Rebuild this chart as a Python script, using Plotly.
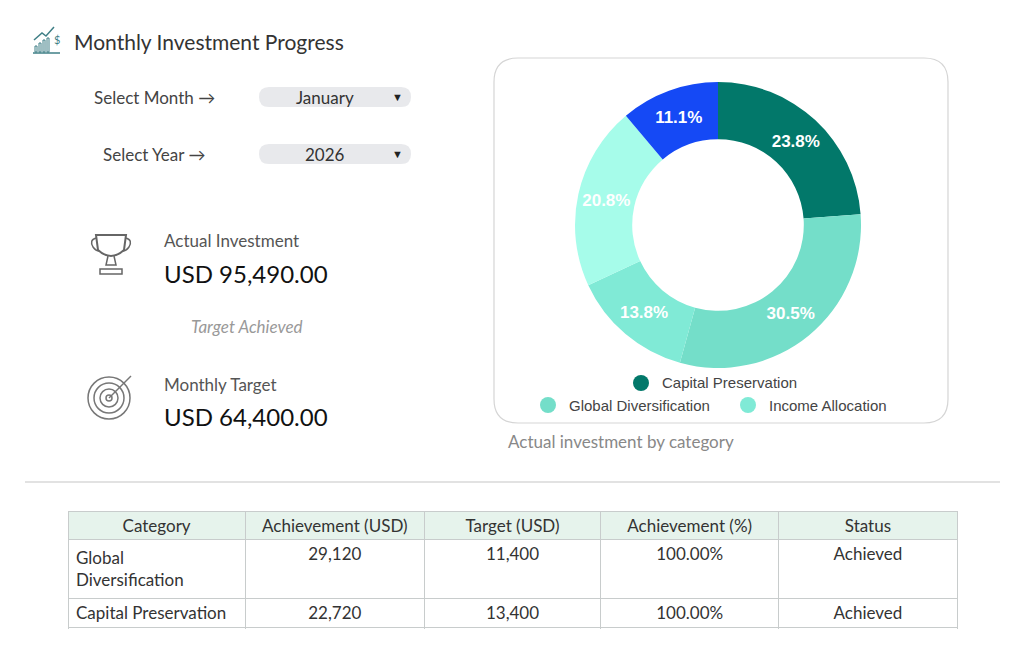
import plotly.graph_objects as go

W, H = 1024, 650
OFF = 8  # page margin the browser adds around the plot

# donut data
slice_labels = ["Capital Preservation", "Global Diversification", "Income Allocation",
                "Alternative Investment", "Liquidity Reserve"]
slice_values = [22720, 29120, 13180, 19830, 10640]
slice_colors = ["#02786A", "#74DEC9", "#80EAD6", "#A6FCEA", "#1549F5"]
legend_items = ["Capital Preservation", "Global Diversification", "Income Allocation"]

# table data (first column is clipped in the source view)
tbl_category = ["Global Diversification", "Capital Preservation", "Alternative Investmen"]
tbl_achieved = ["29,120", "22,720", "19,830"]
tbl_target = ["11,400", "13,400", "8,400"]
tbl_pct = ["100.00%", "100.00%", "100.00%"]
tbl_status = ["Achieved", "Achieved", "Achieved"]
tbl_header = ["Category", "Achievement (USD)", "Target (USD)", "Achievement (%)", "Status"]

actual_total = "USD 95,490.00"
monthly_target = "USD 64,400.00"


def px(x):
    return (x - OFF) / W


def py(y):
    return 1 - (y - OFF) / H


FONT = "Lato"
fig = go.Figure()

fig.add_trace(go.Pie(
    labels=slice_labels, values=slice_values, hole=0.6, sort=False, direction="clockwise",
    rotation=0, marker=dict(colors=slice_colors), textinfo="percent", texttemplate="<b>%{percent:.1%}</b>",
    textfont=dict(family="Liberation Sans", size=17, color="white"), insidetextorientation="horizontal",
    showlegend=False, hoverinfo="label+value+percent",
    domain=dict(x=[px(575), px(861)], y=[py(368), py(82)]),
))

fig.add_trace(go.Table(
    columnwidth=[177, 179, 176, 178, 178],
    header=dict(values=tbl_header, fill_color="#E6F3EC", line_color="#C8CCCC",
                align="center", height=28, font=dict(family=FONT, size=17, color="#333")),
    cells=dict(values=[tbl_category, tbl_achieved, tbl_target, tbl_pct, tbl_status],
               fill_color="white", line_color="#C8CCCC", height=29,
               align=["left", "center", "center", "center", "center"],
               font=dict(family=FONT, size=17, color="#333")),
    domain=dict(x=[px(68), px(957)], y=[py(630), py(511)]),
))

shapes = []
annots = []


def text(x, y, s, size, color="#333", anchor="left", **kw):
    annots.append(dict(x=px(x), y=py(y), xref="paper", yref="paper", text=s, showarrow=False,
                       xanchor=anchor, yanchor="middle",
                       font=dict(family=FONT, size=size, color=color), **kw))


# title + icon
text(72, 41, "Monthly Investment Progress", 21, "#333")
for i, h in enumerate([6, 9, 12, 14]):
    shapes.append(dict(type="rect", xref="paper", yref="paper", x0=px(35 + i * 4), x1=px(37 + i * 4),
                       y0=py(52), y1=py(52 - h), line=dict(color="#3F7F86", width=1)))
shapes.append(dict(type="line", xref="paper", yref="paper", x0=px(33), x1=px(60), y0=py(53), y1=py(53),
                   line=dict(color="#3F7F86", width=1.5)))
shapes.append(dict(type="path", xref="paper", yref="paper",
                   path=f"M{px(34)},{py(40)} L{px(42)},{py(33)} L{px(46)},{py(36)} L{px(54)},{py(27)}",
                   line=dict(color="#3F7F86", width=1.5)))
text(57, 39, "$", 11, "#3F7F86", anchor="center")

# dropdowns
for yy, lab, val, lx in [(97, "Select Month \u2192", "January", 92), (154, "Select Year \u2192", "2026", 101)]:
    text(lx, yy, lab, 17, "#444")
    shapes.append(dict(type="path", xref="paper", yref="paper", fillcolor="#E8E9EC", line=dict(width=0),
                       path=f"M{px(269)},{py(yy-10)} L{px(401)},{py(yy-10)} Q{px(411)},{py(yy-10)} {px(411)},{py(yy)} "
                            f"Q{px(411)},{py(yy+10)} {px(401)},{py(yy+10)} L{px(269)},{py(yy+10)} "
                            f"Q{px(259)},{py(yy+10)} {px(259)},{py(yy)} Q{px(259)},{py(yy-10)} {px(269)},{py(yy-10)} Z"))
    text(325, yy, val, 17, "#333", anchor="center")
    text(397, yy - 1, "\u25BC", 11, "#222", anchor="center")

# trophy icon
shapes.append(dict(type="path", xref="paper", yref="paper", line=dict(color="#666", width=2),
                   path=f"M{px(96)},{py(235)} L{px(126)},{py(235)} L{px(124)},{py(250)} Q{px(111)},{py(262)} {px(98)},{py(250)} Z"))
shapes.append(dict(type="path", xref="paper", yref="paper", line=dict(color="#666", width=1.5),
                   path=f"M{px(96)},{py(238)} Q{px(89)},{py(240)} {px(93)},{py(247)} Q{px(96)},{py(251)} {px(99)},{py(251)}"))
shapes.append(dict(type="path", xref="paper", yref="paper", line=dict(color="#666", width=1.5),
                   path=f"M{px(126)},{py(238)} Q{px(133)},{py(240)} {px(129)},{py(247)} Q{px(126)},{py(251)} {px(123)},{py(251)}"))
shapes.append(dict(type="path", xref="paper", yref="paper", line=dict(color="#666", width=1.5),
                   path=f"M{px(108)},{py(256)} L{px(106)},{py(265)} L{px(116)},{py(265)} L{px(114)},{py(256)}"))
shapes.append(dict(type="rect", xref="paper", yref="paper", x0=px(100), x1=px(122), y0=py(269), y1=py(274),
                   line=dict(color="#666", width=1.5)))

# target icon
for r in [21, 15, 9, 3]:
    shapes.append(dict(type="circle", xref="paper", yref="paper", x0=px(109 - r), x1=px(109 + r),
                       y0=py(398 - r), y1=py(398 + r), line=dict(color="#777", width=1.5)))
shapes.append(dict(type="line", xref="paper", yref="paper", x0=px(109), x1=px(131), y0=py(398), y1=py(376),
                   line=dict(color="#777", width=1.5)))

text(162, 241, "Actual Investment", 17, "#555")
text(162, 273, actual_total, 24, "#111")
text(247, 326, "<i>Target Achieved</i>", 17, "#999", anchor="center")
text(162, 384, "Monthly Target", 17, "#555")
text(162, 416, monthly_target, 24, "#111")

# donut card
x0, x1, y0, y1, r = 494, 948, 58, 423, 24
shapes.append(dict(type="path", xref="paper", yref="paper", layer="below", line=dict(color="#D5D5D5", width=1.2),
                   path=f"M{px(x0+r)},{py(y0)} L{px(x1-r)},{py(y0)} Q{px(x1)},{py(y0)} {px(x1)},{py(y0+r)} "
                        f"L{px(x1)},{py(y1-r)} Q{px(x1)},{py(y1)} {px(x1-r)},{py(y1)} L{px(x0+r)},{py(y1)} "
                        f"Q{px(x0)},{py(y1)} {px(x0)},{py(y1-r)} L{px(x0)},{py(y0+r)} Q{px(x0)},{py(y0)} {px(x0+r)},{py(y0)} Z"))

# manual legend
for (lx, ly), name in zip([(641, 383), (548, 405), (748, 405)], legend_items):
    c = slice_colors[slice_labels.index(name)]
    shapes.append(dict(type="circle", xref="paper", yref="paper", x0=px(lx - 8), x1=px(lx + 8),
                       y0=py(ly - 8), y1=py(ly + 8), fillcolor=c, line=dict(width=0)))
    annots.append(dict(x=px(lx + 19), y=py(ly), xref="paper", yref="paper", text=name, showarrow=False,
                       xanchor="left", yanchor="middle",
                       font=dict(family="Liberation Sans", size=15, color="#444")))

text(506, 441, "Actual investment by category", 17, "#888")

shapes.append(dict(type="line", xref="paper", yref="paper", x0=px(25), x1=px(1000), y0=py(482), y1=py(482),
                   line=dict(color="#D9D9D9", width=1.5)))

fig.update_layout(width=W, height=H, margin=dict(l=0, r=0, t=0, b=0), paper_bgcolor="white",
                  shapes=shapes, annotations=annots)
fig.write_html("out.html")
